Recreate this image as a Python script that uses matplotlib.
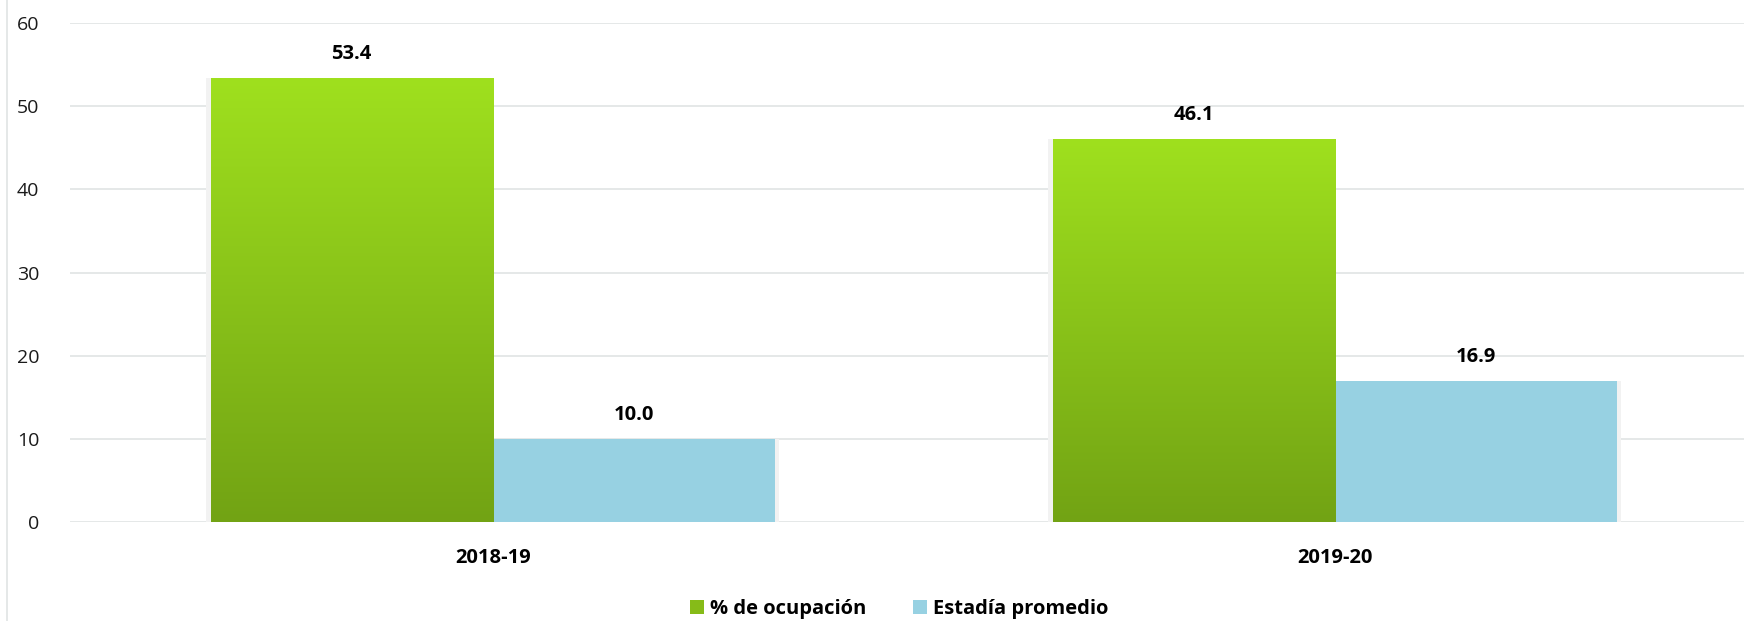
import matplotlib
matplotlib.use("Agg")
import matplotlib.pyplot as plt
import numpy as np
from matplotlib.colors import LinearSegmentedColormap
from matplotlib.lines import Line2D
from matplotlib.patches import Patch

categories = ["2018-19", "2019-20"]
ocupacion = [53.4, 46.1]
estadia = [10.0, 16.9]
series_names = ["% de ocupación", "Estadía promedio"]
yticks = [0, 10, 20, 30, 40, 50, 60]

plt.rcParams['font.family'] = ['Open Sans', 'DejaVu Sans']

W, H = 1744, 621
fig = plt.figure(figsize=(W / 100, H / 100), dpi=100)
ax = fig.add_axes([70 / W, (H - 521.6) / H, 1 - 70 / W, (521.6 - 23.4) / H])

green_top = "#9fe01e"
green_bot = "#72a314"
blue = "#97d1e2"
cmap = LinearSegmentedColormap.from_list("g", [green_bot, green_top])

x = np.arange(len(categories))
bw = 0.335

ax.set_xlim(-0.502, 1.486)
ax.set_ylim(0, 60)

# subtle shadows
for xi, v1, v2 in zip(x, ocupacion, estadia):
    ax.bar(xi - bw / 2 - 0.003, v1, bw + 0.004, color="#f2f2f2", zorder=1.5, linewidth=0)
    ax.bar(xi + bw / 2 + 0.003, v2, bw + 0.004, color="#f2f2f2", zorder=1.5, linewidth=0)
    ax.bar(xi, -0.3, 2 * bw + 0.004, color="#cccccc", zorder=1.6, linewidth=0)

bars1 = ax.bar(x - bw / 2, ocupacion, bw, color="none", zorder=2, linewidth=0)
bars2 = ax.bar(x + bw / 2, estadia, bw, color=blue, zorder=2, linewidth=0)

grad = np.linspace(0, 1, 256).reshape(-1, 1)
for b in bars1:
    x0 = b.get_x()
    x1 = x0 + b.get_width()
    h = b.get_height()
    ax.imshow(grad, extent=[x0, x1, 0, h], origin="lower", aspect="auto",
              cmap=cmap, zorder=2.1, interpolation="bilinear")
ax.set_xlim(-0.502, 1.486)
ax.set_ylim(0, 60)

for b in list(bars1) + list(bars2):
    ax.annotate(f"{b.get_height():.1f}", (b.get_x() + b.get_width() / 2, b.get_height()),
                xytext=(0, 10), textcoords="offset points", ha="center", va="bottom",
                fontsize=14.5, fontweight="bold", color="#000000")

ax.set_yticks(yticks)
ax.set_yticklabels([str(t) for t in yticks], fontsize=14, color="#1a1a1a")
ax.set_xticks(x)
ax.set_xticklabels(categories, fontsize=14.5, fontweight="bold", color="#000000")
ax.tick_params(axis="both", length=0)
ax.tick_params(axis="y", pad=22)
ax.tick_params(axis="x", pad=19)
ax.yaxis.grid(True, color="#e0e4e4", linewidth=1.2, zorder=0)
ax.set_axisbelow(True)
for s in ax.spines.values():
    s.set_visible(False)

# left border of chart area
fig.add_artist(Line2D([6.5 / W, 6.5 / W], [0, 1], color="#e0e4e4", linewidth=1.2))

handles = [Patch(facecolor="#86bb18", edgecolor="none"), Patch(facecolor=blue, edgecolor="none")]
leg = fig.legend(handles, series_names, loc="center", bbox_to_anchor=(899 / W, (H - 609) / H),
                 ncol=2, frameon=False, handlelength=0.7, handleheight=0.7, handletextpad=0.3,
                 columnspacing=2.3, prop={"weight": "bold", "size": 14.5})

fig.savefig("out.png", dpi=100)
